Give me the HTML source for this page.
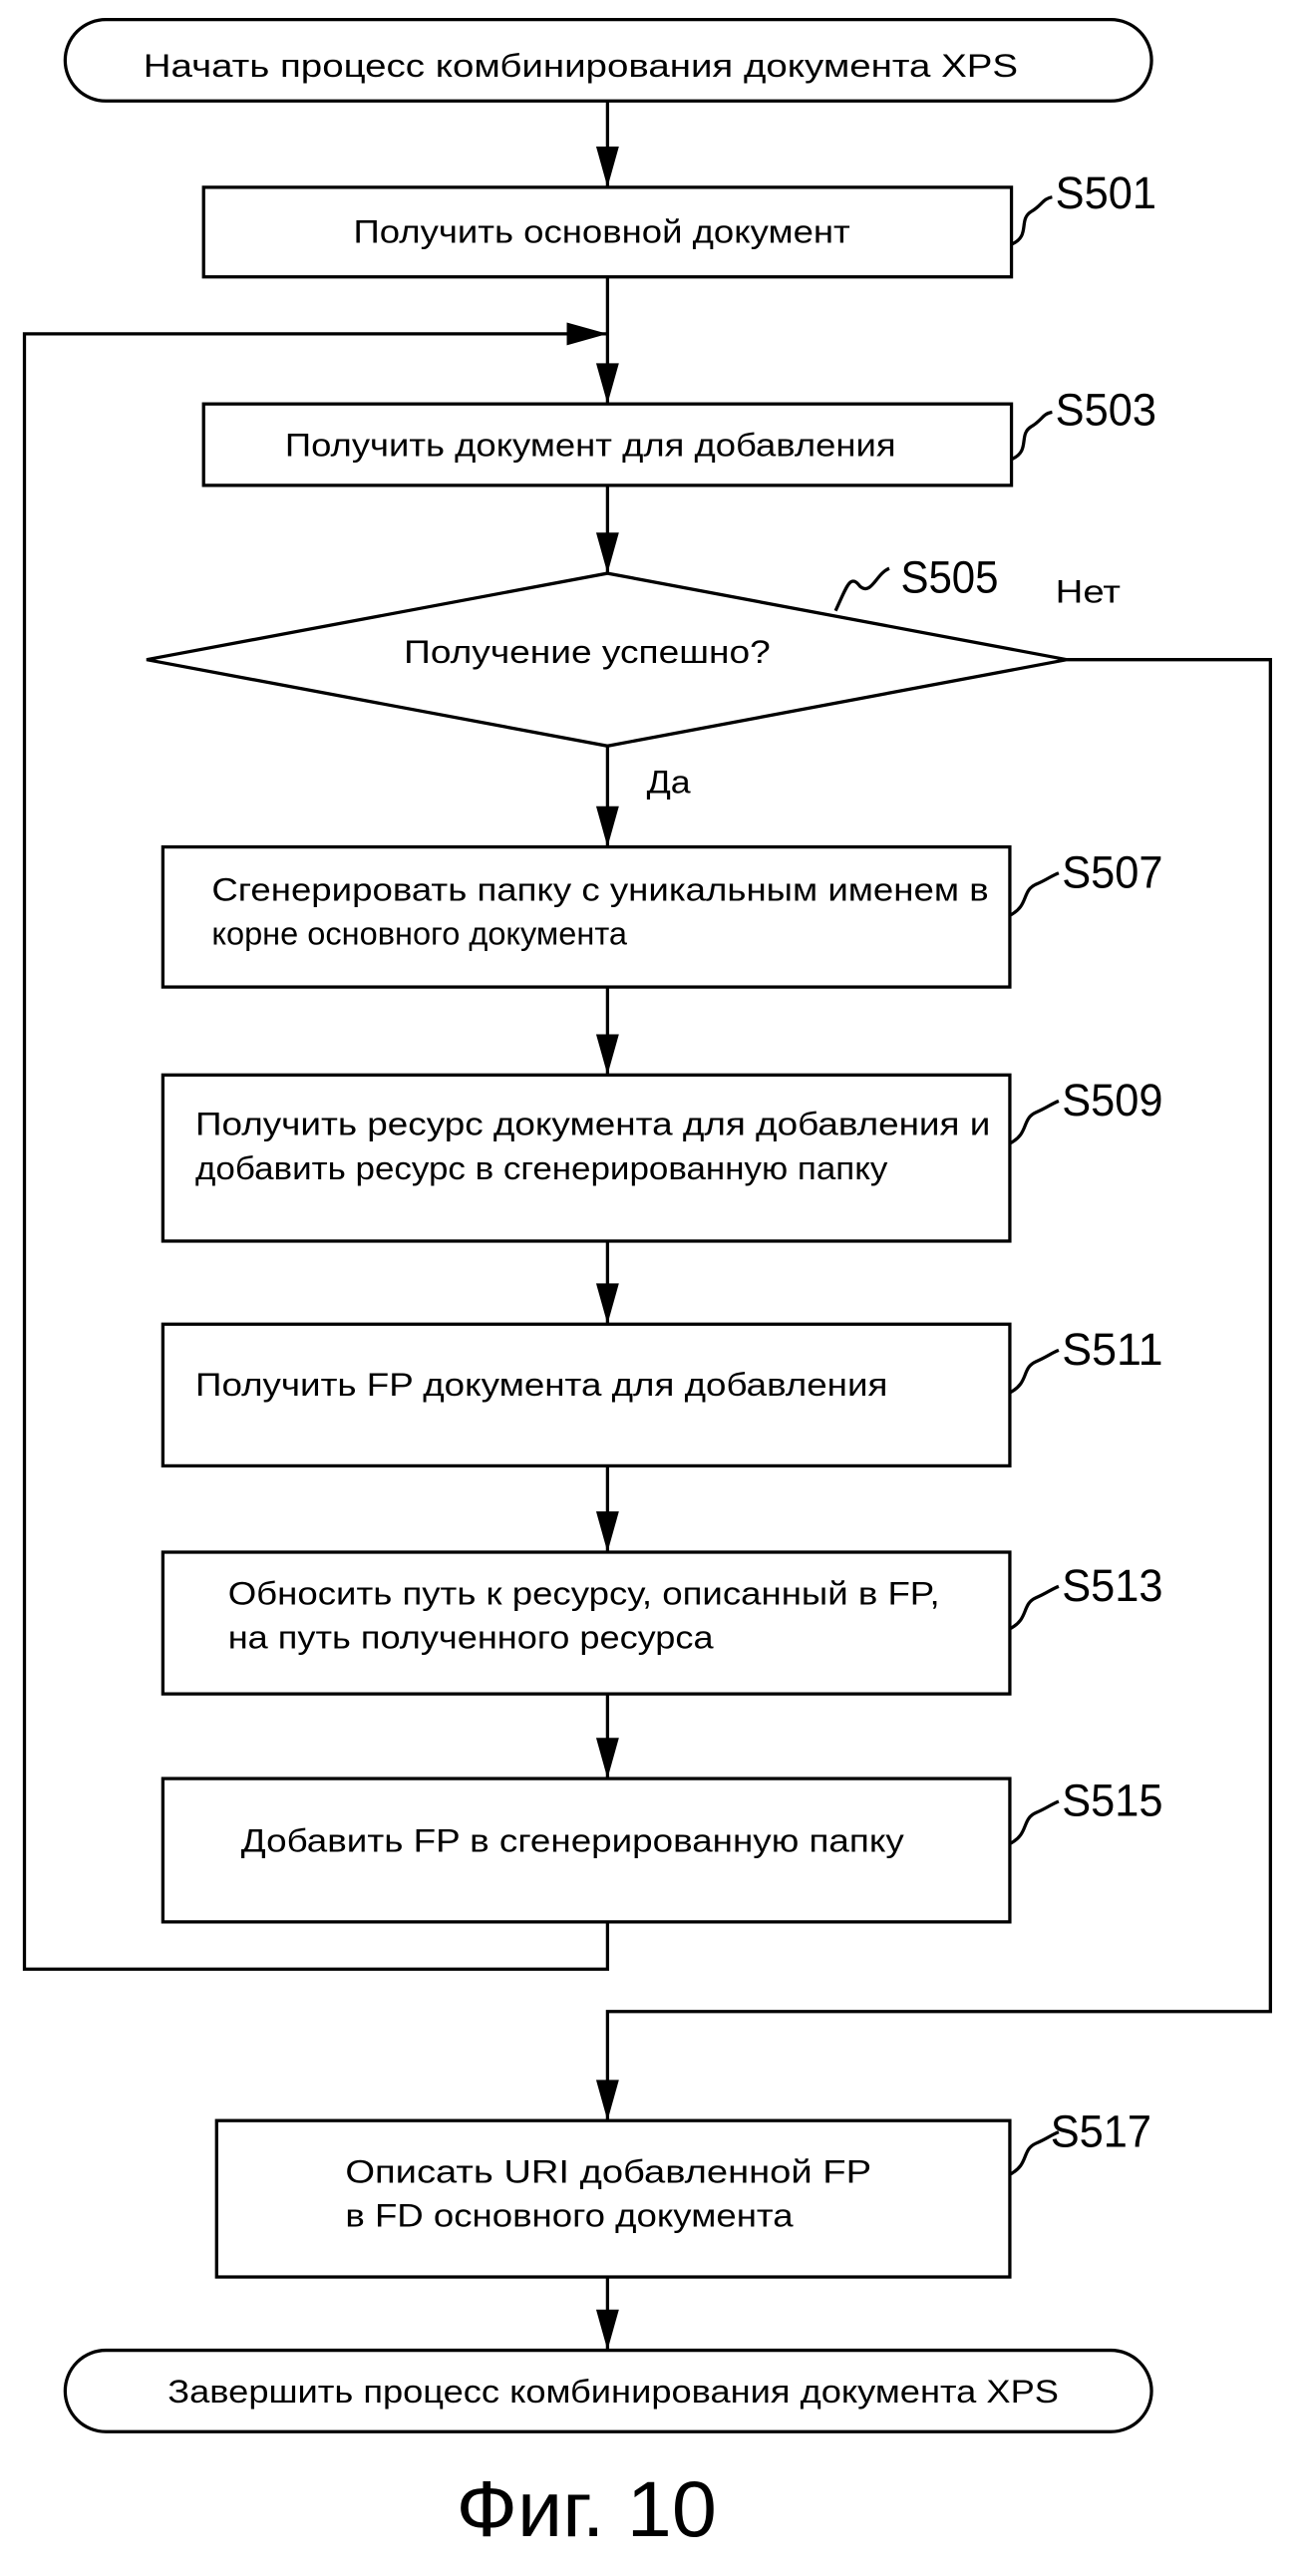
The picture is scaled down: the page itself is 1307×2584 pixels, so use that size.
<!DOCTYPE html>
<html><head><meta charset="utf-8"><style>
html,body{margin:0;padding:0;background:#fff;}
svg{display:block;}
text{font-family:"Liberation Sans Narrow","Liberation Sans",sans-serif;fill:#000;}
</style></head><body>
<svg width="1307" height="2584" viewBox="0 0 800 1581.6" preserveAspectRatio="none" xmlns="http://www.w3.org/2000/svg">
<g stroke="#000" stroke-width="2" fill="none">
<rect x="40" y="12" width="667" height="50" rx="25"/>
<rect x="125" y="115" width="496" height="55"/>
<rect x="125" y="248" width="496" height="50"/>
<polygon points="373,352 655,405 373,458 90,405"/>
<rect x="100" y="520" width="520" height="86"/>
<rect x="100" y="660" width="520" height="102"/>
<rect x="100" y="813" width="520" height="87"/>
<rect x="100" y="953" width="520" height="87"/>
<rect x="100" y="1092" width="520" height="88"/>
<rect x="133" y="1302" width="487" height="96"/>
<rect x="40" y="1443" width="667" height="50" rx="25"/>
<line x1="373" y1="62" x2="373" y2="115"/>
<line x1="373" y1="170" x2="373" y2="248"/>
<line x1="373" y1="298" x2="373" y2="352"/>
<line x1="373" y1="458" x2="373" y2="520"/>
<line x1="373" y1="606" x2="373" y2="660"/>
<line x1="373" y1="762" x2="373" y2="813"/>
<line x1="373" y1="900" x2="373" y2="953"/>
<line x1="373" y1="1040" x2="373" y2="1092"/>
<line x1="373" y1="1398" x2="373" y2="1443"/>
<polyline points="373,1180 373,1209 15,1209 15,205 373,205"/>
<polyline points="655,405 780,405 780,1235 373,1235 373,1302"/>
<path d="M621,150 C633,145 625,135 633,130 C640,126 640,122 646,121"/>
<path d="M621,282 C633,277 625,267 633,262 C640,258 640,254 646,253"/>
<path d="M513,375 C520,360 522,352 528,360 C535,366 538,352 546,349"/>
<path d="M620,562 C632,556 627,547 636,543 C643,540 645,538 650,536"/>
<path d="M620,702 C632,696 627,687 636,683 C643,680 645,678 650,676"/>
<path d="M620,855 C632,849 627,840 636,836 C643,833 645,831 650,829"/>
<path d="M620,1000 C632,994 627,985 636,981 C643,978 645,976 650,974"/>
<path d="M620,1132 C632,1126 627,1117 636,1113 C643,1110 645,1108 650,1106"/>
<path d="M620,1335 C632,1329 627,1320 636,1316 C643,1313 645,1311 650,1309"/>
</g>
<g fill="#000">
<path d="M366,90 L380,90 L373,115 Z"/>
<path d="M366,223 L380,223 L373,248 Z"/>
<path d="M366,327 L380,327 L373,352 Z"/>
<path d="M366,495 L380,495 L373,520 Z"/>
<path d="M366,635 L380,635 L373,660 Z"/>
<path d="M366,788 L380,788 L373,813 Z"/>
<path d="M366,928 L380,928 L373,953 Z"/>
<path d="M366,1067 L380,1067 L373,1092 Z"/>
<path d="M366,1277 L380,1277 L373,1302 Z"/>
<path d="M366,1418 L380,1418 L373,1443 Z"/>
<path d="M348,198 L373,205 L348,212 Z"/>
</g>
<g font-size="20">
<text x="88" y="47" textLength="537" lengthAdjust="spacingAndGlyphs">Начать процесс комбинирования документа XPS</text>
<text x="217" y="149" textLength="305" lengthAdjust="spacingAndGlyphs">Получить основной документ</text>
<text x="175" y="280" textLength="375" lengthAdjust="spacingAndGlyphs">Получить документ для добавления</text>
<text x="248" y="407" textLength="225" lengthAdjust="spacingAndGlyphs">Получение успешно?</text>
<text x="648" y="370" textLength="40" lengthAdjust="spacingAndGlyphs">Нет</text>
<text x="397" y="487" textLength="27" lengthAdjust="spacingAndGlyphs">Да</text>
<text x="130" y="553" textLength="477" lengthAdjust="spacingAndGlyphs">Сгенерировать папку с уникальным именем в</text>
<text x="130" y="580" textLength="255" lengthAdjust="spacingAndGlyphs">корне основного документа</text>
<text x="120" y="697" textLength="488" lengthAdjust="spacingAndGlyphs">Получить ресурс документа для добавления и</text>
<text x="120" y="724" textLength="425" lengthAdjust="spacingAndGlyphs">добавить ресурс в сгенерированную папку</text>
<text x="120" y="857" textLength="425" lengthAdjust="spacingAndGlyphs">Получить FP документа для добавления</text>
<text x="140" y="985" textLength="437" lengthAdjust="spacingAndGlyphs">Обносить путь к ресурсу, описанный в FP,</text>
<text x="140" y="1012" textLength="298" lengthAdjust="spacingAndGlyphs">на путь полученного ресурса</text>
<text x="148" y="1137" textLength="407" lengthAdjust="spacingAndGlyphs">Добавить FP в сгенерированную папку</text>
<text x="212" y="1340" textLength="323" lengthAdjust="spacingAndGlyphs">Описать URI добавленной FP</text>
<text x="212" y="1367" textLength="275" lengthAdjust="spacingAndGlyphs">в FD основного документа</text>
<text x="103" y="1475" textLength="547" lengthAdjust="spacingAndGlyphs">Завершить процесс комбинирования документа XPS</text>
</g>
<g font-size="28">
<text x="648" y="128" textLength="62" lengthAdjust="spacingAndGlyphs">S501</text>
<text x="648" y="261" textLength="62" lengthAdjust="spacingAndGlyphs">S503</text>
<text x="553" y="364" textLength="60" lengthAdjust="spacingAndGlyphs">S505</text>
<text x="652" y="545" textLength="62" lengthAdjust="spacingAndGlyphs">S507</text>
<text x="652" y="685" textLength="62" lengthAdjust="spacingAndGlyphs">S509</text>
<text x="652" y="838" textLength="62" lengthAdjust="spacingAndGlyphs">S511</text>
<text x="652" y="983" textLength="62" lengthAdjust="spacingAndGlyphs">S513</text>
<text x="652" y="1115" textLength="62" lengthAdjust="spacingAndGlyphs">S515</text>
<text x="645" y="1318" textLength="62" lengthAdjust="spacingAndGlyphs">S517</text>
</g>
<text x="280" y="1557" font-size="48" textLength="160" lengthAdjust="spacingAndGlyphs">Фиг. 10</text>
</svg>
</body></html>
